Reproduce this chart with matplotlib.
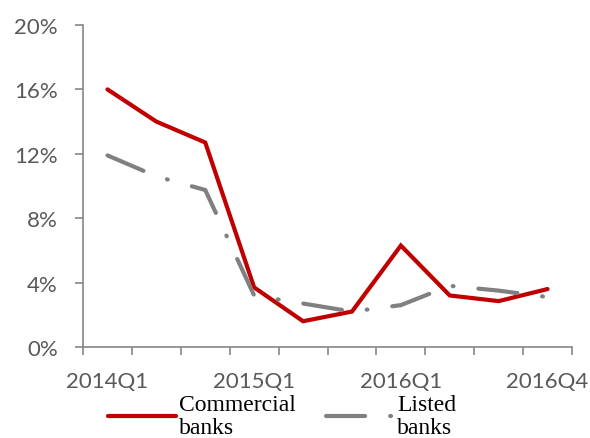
import matplotlib.pyplot as plt
import numpy as np

quarters = ["2014Q1", "", "", "2015Q1", "", "", "2016Q1", "", "", "2016Q4"]
commercial = [16.0, 14.0, 12.7, 3.7, 1.6, 2.2, 6.3, 3.2, 2.85, 3.6]
listed = [11.9, 10.6, 9.75, 3.2, 2.7, 2.2, 2.6, 3.8, 3.5, 3.1]
yticks = [0, 4, 8, 12, 16, 20]

red = '#C00000'
grey = '#808080'
axis_col = '#868686'
label_col = '#595959'

fig = plt.figure(figsize=(5.9, 4.39), dpi=100)
ax = fig.add_axes([0.1407, 0.2073, 0.8288, 0.7335])

x = np.arange(len(quarters))
ax.plot(x, commercial, color=red, lw=3.0, solid_capstyle='round',
        solid_joinstyle='miter', label="Commercial\nbanks")
ax.plot(x, listed, color=grey, lw=3.0, dash_capstyle='round',
        dash_joinstyle='miter', linestyle=(0, (9.4, 6, 0.2, 6)),
        label="Listed\nbanks")

ax.set_xlim(-0.5, len(quarters) - 0.5)
ax.set_ylim(0, 20)

# ticks between categories, labels on categories
ax.set_xticks(np.arange(-0.5, len(quarters)), minor=False)
ax.set_xticklabels([])
ax.set_xticks(x, minor=True)
ax.set_xticklabels(quarters, minor=True)
ax.tick_params(axis='x', which='major', length=6, width=1.2, color=axis_col, direction='out')
ax.tick_params(axis='x', which='minor', length=0, pad=17, labelsize=16, labelcolor=label_col)

ax.set_yticks(yticks)
ax.set_yticklabels([f"{v}%" for v in yticks])
ax.tick_params(axis='y', length=6, width=1.2, color=axis_col, direction='out',
               pad=12, labelsize=16, labelcolor=label_col)

for t in ax.get_xticklabels(minor=True) + ax.get_yticklabels():
    t.set_fontfamily('Lato')

for s in ['top', 'right']:
    ax.spines[s].set_visible(False)
for s in ['left', 'bottom']:
    ax.spines[s].set_color(axis_col)
    ax.spines[s].set_linewidth(1.2)

leg = ax.legend(loc='upper left', bbox_to_anchor=(0.183, 0.1), bbox_transform=fig.transFigure,
                ncol=2, frameon=False, handlelength=2.9, handletextpad=0.1,
                columnspacing=1.3, borderpad=0, borderaxespad=0,
                prop={'family': 'Liberation Serif', 'size': 17})
for t in leg.get_texts():
    t.set_linespacing(1.1)

fig.savefig('out.png', dpi=100)
